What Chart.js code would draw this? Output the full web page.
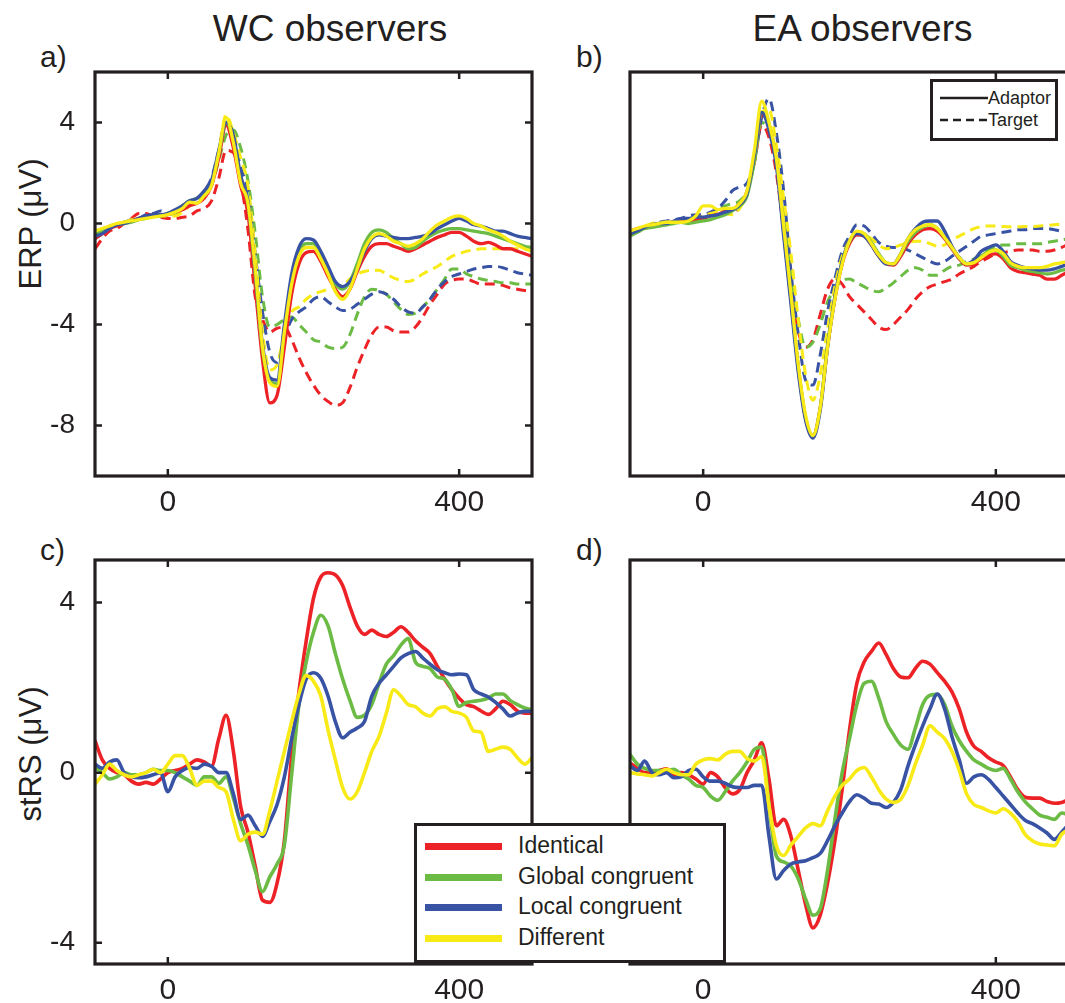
<!DOCTYPE html>
<html>
<head>
<meta charset="utf-8">
<script src="https://cdn.jsdelivr.net/npm/chart.js@4.4.1/dist/chart.umd.min.js"></script>
<style>
  body { margin:0; width:1065px; height:1003px; overflow:hidden; background:#fff; position:relative;
         font-family:"Liberation Sans", Arial, sans-serif; color:#231f20; }
  .pane { position:absolute; }
  .txt { position:absolute; line-height:1; white-space:nowrap; }
  .ytitle { position:absolute; line-height:1; white-space:nowrap; font-size:31px;
            transform:translate(-50%,-50%) rotate(-90deg); }
  .legend { position:absolute; border:3px solid #231f20; background:#fff; z-index:5; }
  .legend .row { position:absolute; left:0; right:0; height:30px; }
  .legend .swatch { position:absolute; left:8px; width:77px; height:7px; top:-3px; }
  .legend .name { position:absolute; left:101px; top:-12px; font-size:23px; line-height:1; }
</style>
</head>
<body>

<div class="txt" style="left:0;width:660px;text-align:center;top:10px;font-size:37px">WC observers</div>
<div class="txt" style="left:535px;width:655px;text-align:center;top:10px;font-size:37px">EA observers</div>
<div class="txt" style="left:40px;top:42px;font-size:30px">a)</div>
<div class="txt" style="left:576px;top:42px;font-size:30px">b)</div>
<div class="txt" style="left:40px;top:535px;font-size:30px">c)</div>
<div class="txt" style="left:576px;top:535px;font-size:30px">d)</div>
<div class="ytitle" style="left:30px;top:224px">ERP (μV)</div>
<div class="ytitle" style="left:30px;top:754px">stRS (μV)</div>

<div class="pane" style="left:0;top:60px"><canvas id="chartA" width="550" height="470"></canvas></div>
<div class="pane" style="left:535px;top:60px"><canvas id="chartB" width="545" height="470"></canvas></div>
<div class="pane" style="left:0;top:548px"><canvas id="chartC" width="550" height="470"></canvas></div>
<div class="pane" style="left:535px;top:548px"><canvas id="chartD" width="545" height="470"></canvas></div>

<!-- line style key, panel b -->
<div class="legend" style="left:930px;top:79px;width:122px;height:56px">
  <svg width="122" height="56" style="position:absolute;left:0;top:0">
    <line x1="7" y1="16" x2="55" y2="16" stroke="#231f20" stroke-width="2.6"/>
    <line x1="7" y1="38" x2="55" y2="38" stroke="#231f20" stroke-width="2.6" stroke-dasharray="8,5"/>
  </svg>
  <div class="txt" style="left:55px;top:7px;font-size:18px">Adaptor</div>
  <div class="txt" style="left:55px;top:29px;font-size:18px">Target</div>
</div>

<!-- condition key, panels c/d -->
<div class="legend" id="condLegend" style="left:414px;top:823px;width:306px;height:134px"></div>

<script>
// time axis (ms)
const times = [-100,-90,-80,-70,-60,-50,-40,-30,-20,-10,
  0,10,20,30,40,50,60,70,80,90,100,110,120,130,140,150,160,170,180,190,
  200,210,220,230,240,250,260,270,280,290,300,310,320,330,340,350,360,370,380,390,
  400,410,420,430,440,450,460,470,480,490,500];

const conditions = ["Identical", "Global congruent", "Local congruent", "Different"];
const condColors = ["#ec2227", "#6cbb45", "#3853a4", "#f8ea16"];

// tick positions and which of them carry a label
const timeTicks = [-100, 0, 100, 200, 300, 400, 500];
const timeTickLabels = [0, 400];
const erpTicks = [-10, -8, -6, -4, -2, 0, 2, 4, 6];
const erpTickLabels = [4, 0, -4, -8];
const strsTicks = [-4, -3, -2, -1, 0, 1, 2, 3, 4];
const strsTickLabels = [4, 0, -4];

// a) WC observers, ERP, adaptor (solid)
const wcAdaptIdentical = [-0.6,-0.4,-0.2,-0.1,0.0,0.1,0.2,0.25,0.3,0.3,
  0.35,0.45,0.55,0.7,0.8,1.0,1.5,2.6,3.9,3.0,
  1.5,0.4,-2.5,-5.4,-7.1,-6.8,-4.9,-2.8,-1.6,-1.15,
  -1.1,-1.5,-2.1,-2.6,-2.9,-2.6,-1.9,-1.3,-0.9,-0.8,
  -0.8,-0.9,-1.0,-1.1,-1.0,-0.85,-0.7,-0.55,-0.45,-0.35,
  -0.35,-0.5,-0.7,-0.8,-0.75,-0.85,-1.0,-1.0,-1.1,-1.2,-1.3];
const wcAdaptGlobal = [-0.4,-0.3,-0.15,-0.05,0.0,0.05,0.15,0.2,0.3,0.3,
  0.4,0.5,0.7,0.9,1.0,1.2,1.6,2.8,4.0,3.3,
  1.7,0.8,-2.0,-5.0,-6.2,-6.35,-4.2,-2.2,-1.15,-0.8,
  -0.8,-1.3,-1.9,-2.4,-2.6,-2.3,-1.6,-0.8,-0.35,-0.25,
  -0.35,-0.6,-0.8,-1.0,-0.95,-0.7,-0.5,-0.35,-0.25,-0.2,
  -0.2,-0.25,-0.3,-0.35,-0.4,-0.5,-0.6,-0.7,-0.8,-0.9,-0.95];
const wcAdaptLocal = [-0.5,-0.4,-0.2,-0.05,0.0,0.1,0.2,0.3,0.35,0.35,
  0.4,0.55,0.7,0.9,1.0,1.3,1.7,2.9,4.0,3.5,
  1.9,0.9,-1.9,-4.8,-6.1,-6.2,-4.0,-2.0,-0.95,-0.6,
  -0.65,-1.1,-1.7,-2.3,-2.5,-2.3,-1.8,-1.1,-0.6,-0.45,
  -0.5,-0.55,-0.6,-0.6,-0.55,-0.5,-0.4,-0.2,-0.05,0.1,
  0.2,0.1,-0.05,-0.1,-0.2,-0.3,-0.3,-0.4,-0.5,-0.55,-0.6];
const wcAdaptDifferent = [-0.3,-0.2,-0.1,0.0,0.05,0.1,0.15,0.2,0.25,0.3,
  0.35,0.45,0.6,0.85,0.8,1.1,1.5,2.8,4.2,3.2,
  1.6,0.8,-1.8,-4.9,-6.3,-6.45,-4.3,-2.4,-1.3,-0.95,
  -0.95,-1.4,-2.0,-2.7,-3.0,-2.6,-1.8,-1.0,-0.55,-0.4,
  -0.5,-0.7,-0.8,-0.9,-0.8,-0.6,-0.3,-0.05,0.1,0.25,
  0.3,0.2,0.0,-0.1,-0.25,-0.35,-0.5,-0.7,-0.85,-1.0,-1.1];

// a) WC observers, ERP, target (dashed)
const wcTargetIdentical = [-1.0,-0.6,-0.3,-0.2,0.0,0.2,0.4,0.4,0.3,0.25,
  0.2,0.2,0.25,0.3,0.5,0.6,0.9,1.8,2.9,2.8,
  1.7,-0.25,-2.9,-3.8,-4.3,-4.15,-4.1,-4.6,-5.3,-5.9,
  -6.4,-6.8,-7.05,-7.2,-7.1,-6.5,-5.7,-5.0,-4.4,-4.1,
  -4.1,-4.25,-4.3,-4.3,-4.1,-3.7,-3.2,-2.8,-2.4,-2.25,
  -2.2,-2.2,-2.3,-2.4,-2.4,-2.4,-2.45,-2.55,-2.6,-2.65,-2.65];
const wcTargetGlobal = [-0.5,-0.3,-0.2,-0.05,0.05,0.1,0.15,0.25,0.3,0.3,
  0.35,0.4,0.55,0.75,0.95,1.1,1.5,2.5,3.5,3.7,
  3.0,1.7,-0.4,-2.9,-4.1,-4.0,-3.8,-3.7,-4.0,-4.3,
  -4.6,-4.7,-4.9,-4.95,-4.9,-4.4,-3.6,-2.9,-2.6,-2.65,
  -2.8,-3.1,-3.4,-3.6,-3.55,-3.3,-3.0,-2.6,-2.2,-1.8,
  -1.8,-2.0,-2.1,-2.2,-2.25,-2.3,-2.35,-2.35,-2.4,-2.4,-2.4];
const wcTargetLocal = [-0.6,-0.4,-0.1,-0.05,0.05,0.15,0.2,0.35,0.4,0.5,
  0.4,0.5,0.7,0.9,1.0,1.3,1.8,2.9,3.9,3.5,
  2.2,1.3,-1.2,-3.5,-5.1,-5.5,-4.5,-3.8,-3.5,-3.3,
  -3.0,-2.9,-3.1,-3.3,-3.45,-3.4,-3.2,-3.0,-2.8,-2.7,
  -2.8,-3.0,-3.3,-3.5,-3.55,-3.3,-3.0,-2.6,-2.3,-2.1,
  -2.0,-1.9,-1.8,-1.75,-1.7,-1.7,-1.75,-1.85,-1.95,-2.0,-2.05];
const wcTargetDifferent = [-0.3,-0.2,-0.1,0.0,0.05,0.15,0.2,0.25,0.35,0.3,
  0.3,0.3,0.45,0.7,0.9,1.1,1.6,2.9,4.3,3.6,
  2.6,1.5,-1.2,-4.3,-5.8,-5.6,-4.3,-3.5,-3.3,-3.0,
  -2.8,-2.7,-2.6,-2.5,-2.45,-2.2,-2.0,-1.9,-1.85,-1.85,
  -2.0,-2.15,-2.25,-2.3,-2.2,-2.0,-1.85,-1.7,-1.5,-1.3,
  -1.2,-1.1,-1.05,-1.0,-1.0,-1.0,-1.0,-1.0,-1.0,-1.0,-1.0];

// b) EA observers, ERP, adaptor (solid)
const eaAdaptIdentical = [-0.3,-0.2,-0.15,-0.1,-0.05,0.0,0.05,0.1,0.1,0.15,
  0.2,0.3,0.35,0.5,0.55,0.8,1.2,2.6,4.3,3.9,
  2.5,-0.3,-3.0,-5.7,-7.7,-8.4,-7.3,-4.9,-3.0,-1.6,
  -0.8,-0.45,-0.5,-0.85,-1.3,-1.6,-1.65,-1.3,-0.8,-0.45,
  -0.25,-0.2,-0.3,-0.6,-1.0,-1.4,-1.65,-1.6,-1.4,-1.25,
  -1.2,-1.4,-1.75,-1.9,-1.95,-2.0,-2.05,-2.2,-2.2,-2.05,-1.9];
const eaAdaptGlobal = [-0.5,-0.35,-0.2,-0.15,-0.1,-0.05,0.0,0.05,0.0,0.05,
  0.1,0.15,0.25,0.35,0.5,0.7,1.1,2.5,4.4,3.9,
  2.5,-0.2,-3.0,-5.7,-7.7,-8.4,-7.3,-4.8,-2.9,-1.5,
  -0.7,-0.35,-0.4,-0.75,-1.2,-1.55,-1.6,-1.2,-0.7,-0.35,
  -0.15,-0.05,-0.2,-0.55,-0.95,-1.35,-1.6,-1.5,-1.3,-1.1,
  -1.05,-1.3,-1.65,-1.75,-1.85,-1.9,-1.95,-2.0,-1.95,-1.85,-1.8];
const eaAdaptLocal = [-0.4,-0.3,-0.15,-0.05,0.0,0.0,0.1,0.2,0.2,0.25,
  0.25,0.3,0.35,0.45,0.55,0.75,1.2,2.7,4.4,3.7,
  2.3,-0.5,-3.2,-5.9,-7.8,-8.5,-7.4,-4.9,-2.9,-1.5,
  -0.7,-0.4,-0.5,-0.85,-1.3,-1.6,-1.6,-1.2,-0.6,-0.2,
  0.05,0.1,0.1,-0.3,-0.9,-1.35,-1.6,-1.45,-1.1,-0.95,
  -0.85,-1.1,-1.5,-1.65,-1.75,-1.8,-1.85,-1.85,-1.8,-1.7,-1.6];
const eaAdaptDifferent = [-0.3,-0.2,-0.1,-0.05,0.0,0.05,0.05,0.05,0.1,0.3,
  0.7,0.7,0.55,0.6,0.6,0.8,1.3,2.9,4.85,4.0,
  2.6,-0.1,-2.8,-5.6,-7.6,-8.4,-7.3,-4.9,-3.0,-1.6,
  -0.7,-0.3,-0.4,-0.8,-1.25,-1.55,-1.6,-1.2,-0.6,-0.25,
  -0.1,-0.05,-0.2,-0.55,-0.95,-1.35,-1.6,-1.55,-1.35,-1.15,
  -1.05,-1.2,-1.55,-1.7,-1.75,-1.75,-1.75,-1.7,-1.6,-1.55,-1.5];

// b) EA observers, ERP, target (dashed)
const eaTargetIdentical = [-0.3,-0.25,-0.15,-0.1,0.0,0.05,0.1,0.15,0.15,0.2,
  0.3,0.4,0.5,0.6,0.4,0.7,1.3,2.4,3.9,3.4,
  2.0,-0.25,-2.7,-4.3,-4.9,-4.6,-3.6,-2.6,-2.2,-2.4,
  -2.9,-3.2,-3.5,-3.8,-4.1,-4.2,-4.0,-3.7,-3.4,-3.0,
  -2.7,-2.5,-2.4,-2.3,-2.2,-2.0,-1.85,-1.7,-1.5,-1.35,
  -1.2,-1.15,-1.1,-1.05,-1.05,-1.05,-1.1,-1.1,-1.05,-0.95,-0.8];
const eaTargetGlobal = [-0.4,-0.3,-0.2,-0.1,0.0,0.05,0.1,0.15,0.15,0.2,
  0.2,0.35,0.55,0.7,0.8,0.9,1.3,2.4,4.0,3.7,
  2.6,0.3,-2.0,-3.8,-4.9,-4.7,-4.0,-3.1,-2.6,-2.25,
  -2.2,-2.35,-2.5,-2.65,-2.7,-2.55,-2.35,-2.1,-1.85,-1.75,
  -1.85,-2.05,-2.05,-1.85,-1.7,-1.65,-1.5,-1.4,-1.2,-1.05,
  -0.9,-0.85,-0.85,-0.8,-0.8,-0.8,-0.8,-0.75,-0.7,-0.65,-0.6];
const eaTargetLocal = [-0.4,-0.3,-0.2,-0.05,0.05,0.1,0.15,0.2,0.3,0.35,
  0.35,0.45,0.6,0.9,1.3,1.45,1.6,2.5,4.2,4.95,
  3.6,1.3,-1.9,-4.4,-6.2,-6.4,-5.2,-3.5,-2.2,-1.1,
  -0.5,-0.05,-0.1,-0.4,-0.75,-0.9,-0.95,-0.95,-1.05,-1.2,
  -1.35,-1.5,-1.6,-1.5,-1.3,-1.1,-0.9,-0.7,-0.5,-0.45,
  -0.4,-0.35,-0.3,-0.25,-0.25,-0.2,-0.2,-0.2,-0.25,-0.3,-0.3];
const eaTargetDifferent = [-0.3,-0.2,-0.1,0.0,0.05,0.05,0.1,0.1,0.15,0.2,
  0.3,0.4,0.45,0.4,0.35,0.6,1.2,2.5,4.4,4.5,
  3.1,1.0,-1.2,-3.8,-6.0,-7.0,-6.0,-4.2,-2.5,-1.3,
  -0.7,-0.4,-0.45,-0.6,-0.85,-1.0,-0.95,-0.85,-0.75,-0.7,
  -0.7,-0.8,-0.9,-0.85,-0.65,-0.5,-0.35,-0.2,-0.12,-0.1,
  -0.1,-0.12,-0.13,-0.13,-0.12,-0.12,-0.1,-0.08,-0.05,-0.02,0.0];

// c) WC observers, stRS
const wcStrsIdentical = [0.75,0.3,0.1,0.0,-0.05,-0.2,-0.27,-0.23,-0.27,-0.15,
  0.0,0.05,0.1,0.2,0.3,0.25,0.15,0.8,1.35,0.5,
  -0.8,-1.4,-2.2,-3.0,-3.05,-2.6,-1.6,0.4,1.9,3.1,
  4.1,4.6,4.7,4.65,4.4,3.9,3.45,3.25,3.35,3.25,
  3.2,3.3,3.43,3.3,3.1,2.95,2.8,2.5,2.2,1.95,
  1.75,1.6,1.55,1.45,1.37,1.5,1.68,1.6,1.45,1.4,1.4];
const wcStrsGlobal = [0.12,0.0,-0.15,-0.1,0.0,-0.05,-0.05,0.0,0.08,0.05,
  0.05,0.0,-0.1,-0.2,-0.3,-0.1,-0.1,-0.25,-0.1,-0.6,
  -1.2,-1.7,-2.3,-2.8,-2.45,-2.15,-1.7,-0.04,1.6,2.6,
  3.3,3.7,3.45,2.8,2.2,1.7,1.3,1.35,1.6,2.1,
  2.55,2.75,3.0,3.15,2.6,2.5,2.45,2.25,2.2,1.95,
  1.56,1.65,1.68,1.7,1.75,1.85,1.85,1.7,1.6,1.52,1.48];
const wcStrsLocal = [0.2,0.1,0.25,0.3,0.0,-0.1,-0.12,-0.1,-0.05,0.0,
  -0.45,-0.1,0.05,0.12,0.1,0.2,0.15,0.0,0.0,-0.5,
  -1.1,-1.0,-1.25,-1.5,-1.15,-0.75,-0.1,0.8,1.6,2.2,
  2.35,2.22,1.8,1.2,0.82,0.95,1.05,1.2,1.8,2.1,
  2.3,2.5,2.7,2.8,2.85,2.7,2.55,2.42,2.35,2.3,
  2.32,2.3,1.95,1.85,1.78,1.65,1.5,1.33,1.4,1.44,1.44];
const wcStrsDifferent = [-0.27,-0.05,0.2,0.05,-0.05,-0.1,-0.05,0.0,0.08,0.0,
  0.2,0.4,0.4,0.1,-0.3,-0.2,-0.2,-0.35,-0.45,-1.1,
  -1.6,-1.45,-1.4,-1.45,-0.9,-0.2,0.5,1.2,1.85,2.28,
  2.15,1.8,1.0,0.3,-0.35,-0.62,-0.45,0.0,0.5,0.85,
  1.4,1.95,1.8,1.6,1.55,1.4,1.33,1.5,1.55,1.44,
  1.4,1.3,0.98,0.95,0.5,0.55,0.6,0.55,0.35,0.2,0.35];

// d) EA observers, stRS
const eaStrsIdentical = [0.23,0.1,0.0,0.0,0.05,0.09,-0.05,0.0,-0.05,-0.15,
  -0.27,0.0,-0.1,-0.35,-0.5,-0.4,0.0,0.3,0.7,-0.16,
  -1.25,-1.1,-1.5,-2.3,-3.1,-3.65,-3.35,-2.6,-1.6,-0.39,
  1.0,2.1,2.6,2.85,3.05,2.78,2.45,2.25,2.23,2.45,
  2.62,2.55,2.35,2.15,1.9,1.5,0.95,0.62,0.5,0.35,
  0.25,0.17,-0.1,-0.4,-0.58,-0.6,-0.6,-0.68,-0.72,-0.7,-0.63];
const eaStrsGlobal = [0.43,0.2,0.1,0.05,0.05,0.05,0.08,-0.05,-0.15,-0.3,
  -0.35,-0.55,-0.65,-0.45,-0.2,0.0,0.25,0.55,0.6,-0.78,
  -1.96,-2.1,-2.2,-2.5,-2.97,-3.35,-3.2,-2.3,-1.1,0.0,
  0.8,1.6,2.1,2.15,1.75,1.2,0.9,0.65,0.55,1.05,
  1.6,1.82,1.84,1.6,1.1,0.75,0.5,0.3,0.2,0.1,
  0.05,0.1,-0.15,-0.45,-0.68,-0.85,-1.0,-1.05,-1.1,-0.95,-1.0];
const eaStrsLocal = [0.16,0.05,0.27,0.0,-0.05,0.0,-0.12,-0.1,0.05,0.08,
  -0.1,-0.2,-0.2,-0.25,-0.33,-0.35,-0.35,-0.3,-0.3,-1.5,
  -2.5,-2.3,-2.15,-2.1,-2.07,-2.0,-1.9,-1.6,-1.25,-0.95,
  -0.68,-0.52,-0.6,-0.72,-0.74,-0.82,-0.7,-0.4,0.16,0.65,
  1.1,1.5,1.85,1.5,0.85,0.3,-0.25,-0.1,-0.05,-0.16,
  -0.35,-0.55,-0.75,-0.95,-1.12,-1.2,-1.3,-1.42,-1.57,-1.4,-1.2];
const eaStrsDifferent = [0.0,-0.03,-0.05,-0.08,0.0,0.08,0.0,-0.05,-0.05,0.2,
  0.3,0.33,0.3,0.43,0.5,0.5,0.33,0.27,0.38,-0.78,
  -1.72,-1.95,-1.7,-1.5,-1.3,-1.2,-1.25,-0.9,-0.55,-0.3,
  -0.15,0.05,0.12,-0.1,-0.4,-0.62,-0.7,-0.63,-0.3,0.2,
  0.65,1.1,0.95,0.8,0.5,0.05,-0.5,-0.75,-0.82,-0.9,
  -0.95,-0.85,-0.95,-1.15,-1.45,-1.6,-1.68,-1.7,-1.72,-1.45,-1.33];

const FONT = "'Liberation Sans', Arial, sans-serif";
const INK = "#231f20";

function toPoints(vals) {
  return times.map((t, i) => ({ x: t, y: vals[i] }));
}

function lineSet(vals, ci, dashed, width) {
  return {
    data: toPoints(vals),
    borderColor: condColors[ci],
    borderWidth: width,
    borderDash: dashed ? [10, 6] : [],
    pointRadius: 0,
    fill: false,
    cubicInterpolationMode: "monotone",
    // yellow drawn last (on top); dashed drawn beneath solid
    order: (dashed ? 10 : 0) + (3 - ci)
  };
}

// box frame with inward ticks on all four sides
const framePlugin = {
  id: "frame",
  afterDatasetsDraw(chart) {
    const { ctx, chartArea: { left, right, top, bottom }, scales: { x, y } } = chart;
    const tl = 7;
    ctx.save();
    ctx.strokeStyle = INK;
    ctx.lineWidth = 2.5;
    ctx.beginPath();
    x.ticks.forEach(t => {
      if (t.value <= x.min || t.value >= x.max) return;
      const px = x.getPixelForValue(t.value);
      ctx.moveTo(px, bottom); ctx.lineTo(px, bottom - tl);
      ctx.moveTo(px, top); ctx.lineTo(px, top + tl);
    });
    y.ticks.forEach(t => {
      if (t.value <= y.min || t.value >= y.max) return;
      const py = y.getPixelForValue(t.value);
      ctx.moveTo(left, py); ctx.lineTo(left + tl, py);
      ctx.moveTo(right, py); ctx.lineTo(right - tl, py);
    });
    ctx.stroke();
    ctx.lineWidth = 3.2;
    ctx.strokeRect(left, top, right - left, bottom - top);
    ctx.restore();
  }
};

function makeChart(id, datasets, yMin, yMax, yTicks, yLabels, showY, padRight) {
  return new Chart(document.getElementById(id), {
    type: "line",
    data: { datasets },
    options: {
      responsive: false,
      animation: false,
      layout: { padding: { top: 12, right: padRight, left: 0, bottom: 0 } },
      plugins: { legend: { display: false }, tooltip: { enabled: false } },
      scales: {
        x: {
          type: "linear", min: -100, max: 500,
          afterBuildTicks: s => { s.ticks = timeTicks.map(v => ({ value: v })); },
          afterFit: s => { s.height = 54; s.paddingLeft = 0; s.paddingRight = 0; },
          grid: { display: false }, border: { display: false },
          ticks: {
            autoSkip: false, maxRotation: 0, padding: 1,
            color: INK, font: { size: 30, family: FONT },
            callback: v => timeTickLabels.includes(v) ? String(v) : null
          }
        },
        y: {
          min: yMin, max: yMax,
          afterBuildTicks: s => { s.ticks = yTicks.map(v => ({ value: v })); },
          afterFit: s => { s.width = 95; s.paddingTop = 0; s.paddingBottom = 0; },
          grid: { display: false }, border: { display: false },
          ticks: {
            autoSkip: false, padding: 12,
            color: INK, font: { size: 28, family: FONT },
            callback: v => (showY && yLabels.includes(v)) ? String(v) : null
          }
        }
      }
    },
    plugins: [framePlugin]
  });
}

const wcAdapt = [wcAdaptIdentical, wcAdaptGlobal, wcAdaptLocal, wcAdaptDifferent];
const wcTarget = [wcTargetIdentical, wcTargetGlobal, wcTargetLocal, wcTargetDifferent];
const eaAdapt = [eaAdaptIdentical, eaAdaptGlobal, eaAdaptLocal, eaAdaptDifferent];
const eaTarget = [eaTargetIdentical, eaTargetGlobal, eaTargetLocal, eaTargetDifferent];
const wcStrs = [wcStrsIdentical, wcStrsGlobal, wcStrsLocal, wcStrsDifferent];
const eaStrs = [eaStrsIdentical, eaStrsGlobal, eaStrsLocal, eaStrsDifferent];

makeChart("chartA",
  wcAdapt.map((v, i) => lineSet(v, i, false, 3.3)).concat(wcTarget.map((v, i) => lineSet(v, i, true, 3))),
  -10, 6, erpTicks, erpTickLabels, true, 18);
makeChart("chartB",
  eaAdapt.map((v, i) => lineSet(v, i, false, 3.3)).concat(eaTarget.map((v, i) => lineSet(v, i, true, 3))),
  -10, 6, erpTicks, erpTickLabels, false, 11);
makeChart("chartC", wcStrs.map((v, i) => lineSet(v, i, false, 3.6)), -4.5, 5, strsTicks, strsTickLabels, true, 18);
makeChart("chartD", eaStrs.map((v, i) => lineSet(v, i, false, 3.6)), -4.5, 5, strsTicks, strsTickLabels, false, 11);

// condition key
const leg = document.getElementById("condLegend");
conditions.forEach((name, i) => {
  const row = document.createElement("div");
  row.className = "row";
  row.style.top = (20 + i * 30.5) + "px";
  row.innerHTML = '<div class="swatch" style="background:' + condColors[i] + '"></div>' +
                  '<div class="name">' + name + '</div>';
  leg.appendChild(row);
});
</script>
</body>
</html>
